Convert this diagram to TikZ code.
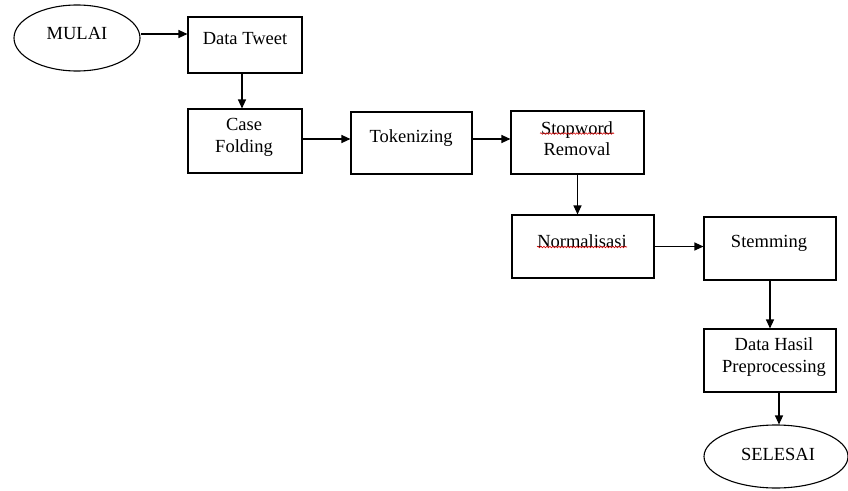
\documentclass[tikz,border=0pt]{standalone}
\usepackage{fontspec}
\setmainfont{Liberation Serif}
\usetikzlibrary{shapes.geometric,arrows.meta,decorations.pathmorphing}
\begin{document}
\begin{tikzpicture}[x=1pt,y=-1pt,
  box/.style={draw, line width=1.1pt, rectangle, inner sep=0pt},
  oval/.style={draw, line width=1.1pt, ellipse, inner sep=0pt},
  lbl/.style={font=\fontsize{18.5}{21.5}\selectfont, align=center, inner sep=0pt},
  arr/.style={line width=1.1pt, -{Triangle[length=9pt,width=8pt]}},
  wavy/.style={red!85!black, line width=0.6pt, decorate, decoration={snake, amplitude=0.8pt, segment length=3pt}}]
\useasboundingbox (0,0) rectangle (848,490);
% shapes
\node[oval, minimum width=126, minimum height=66] (mulai) at (77,38) {};
\node[box, minimum width=114, minimum height=56] (dt) at (245,45) {};
\node[box, minimum width=114, minimum height=64] (cf) at (245,141) {};
\node[box, minimum width=121, minimum height=62] (tok) at (411.5,143) {};
\node[box, minimum width=133, minimum height=63] (sw) at (577.5,142.5) {};
\node[box, minimum width=142, minimum height=63] (nm) at (583,246.5) {};
\node[box, minimum width=132, minimum height=63] (st) at (770,248.5) {};
\node[box, minimum width=132, minimum height=63] (dh) at (770,360.5) {};
\node[oval, minimum width=144, minimum height=63] (sel) at (776,456.5) {};
% texts
\node[lbl] (tmulai) at (77,33) {MULAI};
\node[lbl] (tdt) at (245,39) {Data Tweet};
\node[lbl] (tcf) at (244,137.5) {Case\\Folding};
\node[lbl] (ttok) at (411,138) {Tokenizing};
\node[lbl] (tsw) at (577,138.5) {Stopword\\Removal};
\node[lbl] (tnm) at (582,241) {Normalisasi};
\node[lbl] (tst) at (769,243) {Stemming};
\node[lbl] (tdh) at (774,357) {Data Hasil\\Preprocessing};
\node[lbl] (tsel) at (778,454) {SELESAI};
% spell-check underlines
\draw[wavy] (540,133.5) -- (614,133.5);
\draw[wavy] (537,247) -- (627,247);
% connectors
\draw[arr] ([yshift=4pt]mulai.east) -- ([yshift=11pt]dt.west);
\draw[arr] ([xshift=-3pt]dt.south) -- ([xshift=-3pt]cf.north);
\draw[arr] ([yshift=2pt]cf.east) -- ([yshift=2pt]cf.east -| tok.west);
\draw[arr] ([yshift=4pt]tok.east) -- ([yshift=4pt]tok.east -| sw.west);
\draw[arr] (sw.south) -- (sw.south |- nm.north);
\draw[arr] (nm.east) -- (nm.east -| st.west);
\draw[arr] (st.south) -- (dh.north);
\draw[arr] ([xshift=9pt]dh.south) -- ([xshift=9pt]dh.south |- sel.north);
\end{tikzpicture}
\end{document}
